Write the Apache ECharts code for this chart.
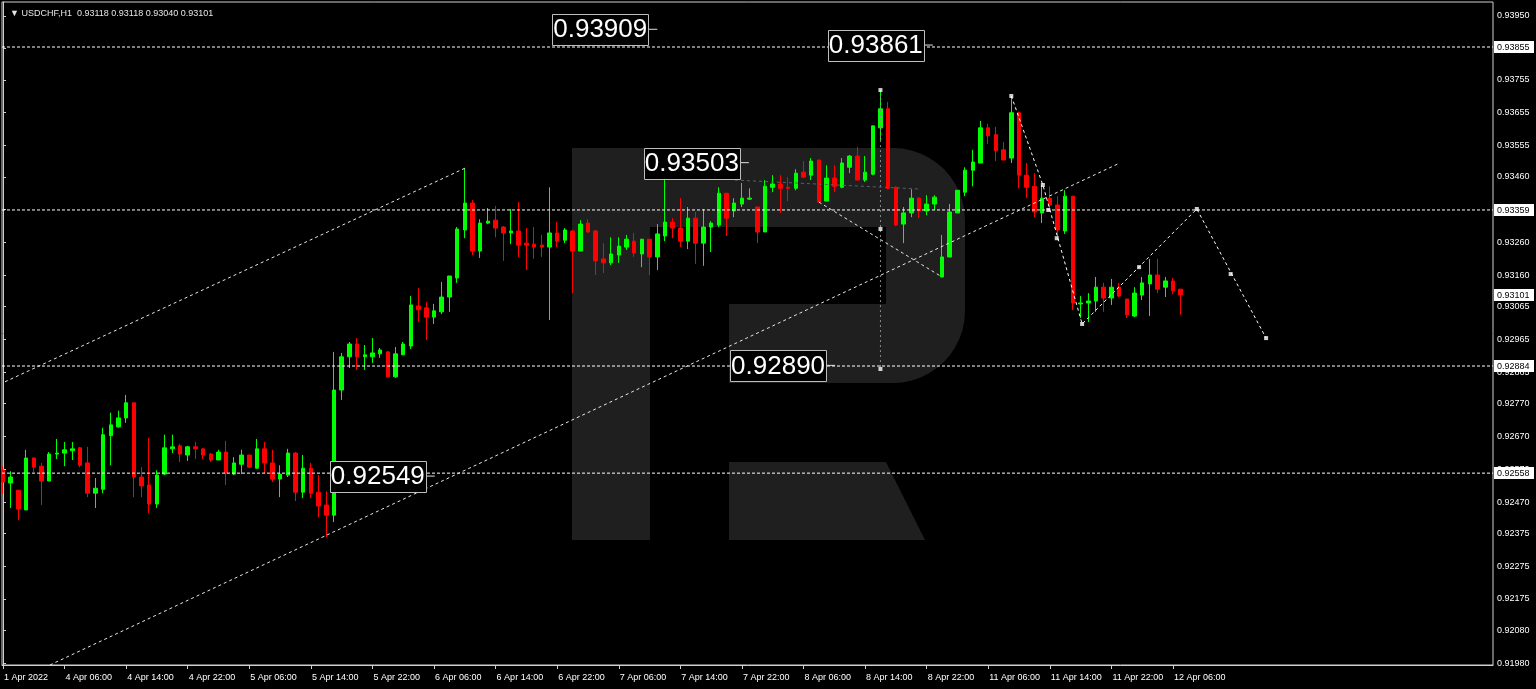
<!DOCTYPE html>
<html><head><meta charset="utf-8">
<script src="https://cdn.jsdelivr.net/npm/echarts@6/dist/echarts.min.js"></script>
<style>html,body{margin:0;padding:0;background:#000;overflow:hidden}#c{width:1536px;height:689px}</style>
</head><body><div id="c"></div>
<script>
// ---- data (USDCHF, H1) ----
const opens = [
0.92567,0.92528,0.92506,0.92446,0.92604,0.92579,0.92534,0.92616,0.92619,0.92626,
0.92635,0.92589,0.92497,0.92509,0.92672,0.92699,0.92726,0.92772,0.92546,0.92522,
0.92464,0.92555,0.92632,0.92641,0.92613,0.92638,0.92632,0.92616,0.92598,0.92622,
0.92555,0.92585,0.92613,0.92573,0.92632,0.92589,0.92540,0.92552,0.92619,0.92500,
0.92573,0.92500,0.92461,0.92430,0.92811,0.92912,0.92951,0.92912,0.92912,0.92921,
0.92927,0.92851,0.92918,0.92945,0.93067,0.93061,0.93033,0.93049,0.93094,0.93152,
0.93298,0.93380,0.93234,0.93319,0.93328,0.93307,0.93289,0.93295,0.93258,0.93255,
0.93252,0.93246,0.93289,0.93267,0.93295,0.93234,0.93319,0.93295,0.93210,0.93198,
0.93222,0.93246,0.93264,0.93225,0.93270,0.93216,0.93280,0.93322,0.93304,0.93264,
0.93334,0.93258,0.93307,0.93313,0.93410,0.93356,0.93377,0.93392,0.93368,0.93292,
0.93428,0.93438,0.93428,0.93425,0.93474,0.93465,0.93511,0.93386,0.93456,0.93428,
0.93489,0.93523,0.93450,0.93468,0.93609,0.93667,0.93428,0.93316,0.93350,0.93395,
0.93356,0.93377,0.93155,0.93216,0.93350,0.93413,0.93480,0.93502,0.93609,0.93588,
0.93542,0.93517,0.93655,0.93465,0.93431,0.93350,0.93395,0.93374,0.93295,0.93401,
0.93073,0.93076,0.93082,0.93124,0.93091,0.93124,0.93088,0.93036,0.93100,0.93134,
0.93161,0.93124,0.93143,0.93118];
const closes = [
0.92531,0.92546,0.92449,0.92604,0.92576,0.92534,0.92616,0.92619,0.92629,0.92632,
0.92582,0.92497,0.92512,0.92675,0.92705,0.92726,0.92772,0.92546,0.92519,0.92464,
0.92552,0.92635,0.92638,0.92616,0.92638,0.92632,0.92613,0.92598,0.92622,0.92558,
0.92589,0.92613,0.92576,0.92632,0.92589,0.92540,0.92555,0.92619,0.92500,0.92573,
0.92497,0.92458,0.92430,0.92811,0.92912,0.92951,0.92912,0.92918,0.92924,0.92933,
0.92851,0.92921,0.92951,0.93070,0.93055,0.93033,0.93052,0.93094,0.93158,0.93301,
0.93380,0.93234,0.93319,0.93325,0.93304,0.93289,0.93295,0.93252,0.93252,0.93246,
0.93246,0.93289,0.93264,0.93298,0.93234,0.93316,0.93292,0.93204,0.93198,0.93225,
0.93249,0.93270,0.93228,0.93270,0.93216,0.93286,0.93322,0.93304,0.93264,0.93334,
0.93258,0.93307,0.93319,0.93410,0.93334,0.93380,0.93395,0.93395,0.93292,0.93431,
0.93438,0.93425,0.93425,0.93471,0.93459,0.93508,0.93383,0.93456,0.93431,0.93502,
0.93523,0.93450,0.93474,0.93615,0.93667,0.93425,0.93313,0.93350,0.93395,0.93356,
0.93377,0.93398,0.93216,0.93353,0.93419,0.93480,0.93505,0.93609,0.93585,0.93539,
0.93511,0.93655,0.93465,0.93428,0.93353,0.93395,0.93374,0.93298,0.93401,0.93076,
0.93076,0.93082,0.93124,0.93091,0.93124,0.93097,0.93040,0.93106,0.93137,0.93161,
0.93118,0.93143,0.93113,0.93101];
const highs = [
0.92579,0.92564,0.92506,0.92629,0.92607,0.92589,0.92622,0.92662,0.92653,0.92653,
0.92638,0.92638,0.92543,0.92696,0.92742,0.92748,0.92796,0.92772,0.92576,0.92665,
0.92567,0.92675,0.92675,0.92647,0.92641,0.92653,0.92632,0.92619,0.92629,0.92656,
0.92607,0.92629,0.92613,0.92662,0.92653,0.92629,0.92582,0.92632,0.92622,0.92613,
0.92589,0.92552,0.92503,0.92927,0.92924,0.92957,0.92969,0.92948,0.92969,0.92939,
0.92930,0.92942,0.92957,0.93097,0.93121,0.93079,0.93073,0.93140,0.93158,0.93307,
0.93486,0.93389,0.93331,0.93365,0.93371,0.93310,0.93362,0.93383,0.93304,0.93307,
0.93283,0.93428,0.93322,0.93304,0.93298,0.93328,0.93331,0.93298,0.93258,0.93276,
0.93276,0.93283,0.93289,0.93270,0.93270,0.93316,0.93503,0.93334,0.93395,0.93368,
0.93353,0.93362,0.93325,0.93428,0.93410,0.93395,0.93441,0.93425,0.93368,0.93450,
0.93465,0.93465,0.93459,0.93483,0.93508,0.93517,0.93511,0.93495,0.93495,0.93517,
0.93526,0.93551,0.93523,0.93615,0.93724,0.93688,0.93431,0.93368,0.93422,0.93398,
0.93404,0.93404,0.93283,0.93377,0.93419,0.93489,0.93542,0.93630,0.93621,0.93612,
0.93566,0.93706,0.93658,0.93502,0.93471,0.93435,0.93431,0.93401,0.93419,0.93401,
0.93097,0.93106,0.93155,0.93137,0.93149,0.93137,0.93088,0.93124,0.93155,0.93210,
0.93210,0.93155,0.93152,0.93118];
const lows = [
0.92494,0.92452,0.92415,0.92446,0.92561,0.92461,0.92534,0.92601,0.92579,0.92598,
0.92576,0.92485,0.92452,0.92497,0.92582,0.92696,0.92711,0.92485,0.92485,0.92437,
0.92452,0.92552,0.92619,0.92592,0.92595,0.92601,0.92601,0.92592,0.92598,0.92522,
0.92552,0.92555,0.92573,0.92573,0.92558,0.92531,0.92485,0.92546,0.92473,0.92482,
0.92482,0.92424,0.92363,0.92409,0.92781,0.92878,0.92872,0.92872,0.92893,0.92909,
0.92848,0.92848,0.92918,0.92936,0.93018,0.92963,0.93012,0.93042,0.93049,0.93137,
0.93273,0.93222,0.93213,0.93316,0.93276,0.93204,0.93255,0.93216,0.93176,0.93210,
0.93216,0.93024,0.93246,0.93258,0.93106,0.93234,0.93289,0.93161,0.93167,0.93191,
0.93198,0.93237,0.93216,0.93185,0.93161,0.93176,0.93264,0.93273,0.93246,0.93240,
0.93195,0.93189,0.93231,0.93307,0.93280,0.93337,0.93368,0.93389,0.93258,0.93292,
0.93413,0.93350,0.93386,0.93419,0.93456,0.93450,0.93383,0.93386,0.93413,0.93425,
0.93471,0.93450,0.93444,0.93465,0.93572,0.93422,0.93310,0.93258,0.93337,0.93334,
0.93343,0.93359,0.93155,0.93216,0.93350,0.93401,0.93431,0.93502,0.93560,0.93508,
0.93511,0.93502,0.93425,0.93395,0.93337,0.93319,0.93359,0.93267,0.93286,0.93055,
0.93030,0.93018,0.93049,0.93049,0.93070,0.93094,0.93030,0.93033,0.93085,0.93036,
0.93106,0.93094,0.93103,0.93040];

// time axis labels (one every 8 hourly bars)
const xTickIndex = [0,8,16,24,32,40,48,56,64,72,80,88,96,104,112,120,128,136,144,152];
const xTickLabels = ['1 Apr 2022','4 Apr 06:00','4 Apr 14:00','4 Apr 22:00','5 Apr 06:00','5 Apr 14:00',
  '5 Apr 22:00','6 Apr 06:00','6 Apr 14:00','6 Apr 22:00','7 Apr 06:00','7 Apr 14:00','7 Apr 22:00',
  '8 Apr 06:00','8 Apr 14:00','8 Apr 22:00','11 Apr 06:00','11 Apr 14:00','11 Apr 22:00','12 Apr 06:00'];
// price scale labels
const yTicks = [0.91980,0.92080,0.92175,0.92275,0.92375,0.92470,0.92570,0.92670,0.92770,0.92865,
  0.92965,0.93065,0.93160,0.93260,0.93360,0.93460,0.93555,0.93655,0.93755,0.93850,0.93950];

// horizontal levels and current price
const hLines = [0.93855, 0.93359, 0.92884, 0.92558];
const lastPrice = 0.93101;

// drawn objects: [bar index, price]
const channelUpper = [[0.26, 0.92836], [60, 0.93486]];
const channelLower = [[6.1, 0.91974], [145.1, 0.93502]];
const swingLine = [[106, 0.93383], [122, 0.93155]];
const forecastPath = [[131, 0.93706], [135.1, 0.93435], [140.2, 0.93012], [155.1, 0.93362], [164.1, 0.92969]];
const forecastMarks = [[131, 0.93706], [135.1, 0.93435], [135.8, 0.93359], [136.9, 0.93273], [140.2, 0.93012],
  [147.6, 0.93185], [155.1, 0.93362], [159.5, 0.93164], [164.1, 0.92969], [114, 0.93724], [114, 0.93301], [114, 0.92875]];
const verticalLine = [[114, 0.93724], [114, 0.92875]];
const greyLine = [[95.1, 0.93450], [118.9, 0.93423]];
const priceLabelText = ['0.93909', '0.93861', '0.93503', '0.92890', '0.92549'];
const priceLabelAt = [[85, 0.93909], [120.8, 0.93861], [96.9, 0.93503], [108.1, 0.92886], [56.1, 0.92549]];

// axis range
const X_MIN = -0.13, X_MAX = 193.58, Y_MIN = 0.91974, Y_MAX = 0.93992;

// ---- chart ----
const FONT = 'Liberation Sans';
const candles = opens.map((o, i) => [i, o, closes[i], lows[i], highs[i]]);

// watermark logo (decoration)
function logoOuter() {
  const pts = [[572,148],[893,148]];
  const r = 72, n = 12;
  for (let k = 1; k <= n; k++) { const t = k / n * Math.PI / 2; pts.push([893 + r * Math.sin(t), 220 - r * Math.cos(t)]); }
  pts.push([965, 311]);
  for (let k = 1; k <= n; k++) { const t = k / n * Math.PI / 2; pts.push([893 + r * Math.cos(t), 311 + r * Math.sin(t)]); }
  pts.push([729,383],[729,304],[886,304],[886,227],[650,227],[650,540],[572,540]);
  return pts;
}

const lineBase = (data, color, dash, z) => ({
  type: 'line', data: data, symbol: 'none', silent: true, z: z || 3, animation: false,
  lineStyle: { color: color, width: 1, type: dash }
});

const hLineSeries = hLines.map(v => lineBase([[X_MIN, v], [X_MAX, v]], '#ffffff', [3, 2], 3));
const axisBoxValues = hLines.concat([lastPrice]).map(v => [X_MAX, v]);

const chart = echarts.init(document.getElementById('c'), null, { width: 1536, height: 689 });
chart.setOption({
  backgroundColor: '#000',
  animation: false,
  title: {
    text: '\u25BC USDCHF,H1  0.93118 0.93118 0.93040 0.93101', left: 5, top: 4,
    textStyle: { color: '#e6e6e6', fontSize: 9, fontWeight: 'normal', fontFamily: FONT }
  },
  grid: { left: 2, right: 43, top: 2, bottom: 24, show: true, borderColor: '#cfcfcf', borderWidth: 1,
    backgroundColor: 'transparent', containLabel: false, outerBoundsMode: 'none' },
  graphic: [
    { type: 'polygon', z: 1, silent: true, shape: { points: logoOuter() }, style: { fill: '#1f1f1f' } },
    { type: 'polygon', z: 1, silent: true, shape: { points: [[729,462],[886,462],[925,540],[729,540]] }, style: { fill: '#1f1f1f' } }
  ],
  xAxis: {
    type: 'value', min: X_MIN, max: X_MAX,
    axisLine: { show: true, lineStyle: { color: '#cfcfcf' } },
    axisTick: { show: true, customValues: xTickIndex, length: 4, lineStyle: { color: '#cfcfcf' } },
    axisLabel: {
      customValues: xTickIndex, align: 'left', margin: 8, color: '#ffffff', fontSize: 9, fontFamily: FONT,
      padding: [0, 0, 0, 1],
      formatter: v => { const k = xTickIndex.indexOf(Math.round(v)); return k >= 0 ? xTickLabels[k] : ''; }
    },
    splitLine: { show: false }
  },
  yAxis: {
    type: 'value', position: 'right', min: Y_MIN, max: Y_MAX,
    axisLine: { show: true, lineStyle: { color: '#cfcfcf' } },
    axisTick: { show: true, customValues: yTicks, length: 3, lineStyle: { color: '#cfcfcf' } },
    axisLabel: { customValues: yTicks, margin: 4, color: '#ffffff', fontSize: 9, fontFamily: FONT,
      formatter: v => v.toFixed(5) },
    splitLine: { show: false }
  },
  series: [
    {
      type: 'candlestick', data: candles, barWidth: 4, z: 2, silent: true,
      itemStyle: { color: '#00ff00', color0: '#ff0000', borderColor: '#00ff00', borderColor0: '#ff0000', borderWidth: 1 }
    },
    ...hLineSeries,
    lineBase(channelUpper, '#e8e8e8', [3, 3]),
    lineBase(channelLower, '#e8e8e8', [3, 3]),
    lineBase(swingLine, '#e8e8e8', [3, 3]),
    lineBase(forecastPath, '#ffffff', [3, 3]),
    lineBase(verticalLine, '#8a8a8a', [2, 3]),
    lineBase(greyLine, '#56606a', [3, 3]),
    {
      type: 'scatter', data: forecastMarks, symbol: 'rect', symbolSize: 4, silent: true, z: 4,
      itemStyle: { color: '#ffffff' }
    },
    {
      type: 'custom', data: axisBoxValues, z: 7, silent: true, clip: false,
      renderItem: function (params, api) {
        const p = api.coord([api.value(0), api.value(1)]);
        const x = p[0], y = Math.round(p[1]);
        return {
          type: 'group', children: [
            { type: 'rect', shape: { x: x + 1, y: y - 6, width: 40, height: 12 }, style: { fill: '#ffffff' } },
            { type: 'text', style: { text: api.value(1).toFixed(5), x: x + 4, y: y + 0.5, align: 'left',
              verticalAlign: 'middle', fill: '#000000', font: '9px "Liberation Sans"' } }
          ]
        };
      }
    },
    {
      type: 'custom', data: priceLabelAt, z: 6, silent: true,
      renderItem: function (params, api) {
        const p = api.coord([api.value(0), api.value(1)]);
        const x = p[0], y = p[1];
        return {
          type: 'group', children: [
            { type: 'line', shape: { x1: x - 9, y1: y, x2: x, y2: y }, style: { stroke: '#e0e0e0', lineWidth: 1 } },
            { type: 'rect', shape: { x: Math.round(x - 105) + 0.5, y: Math.round(y - 15) + 0.5, width: 96, height: 31 },
              style: { fill: '#000', stroke: '#bdbdbd', lineWidth: 1 } },
            { type: 'text', style: { text: priceLabelText[params.dataIndex], x: x - 57, y: y + 1,
              align: 'center', verticalAlign: 'middle', fill: '#ffffff', font: '26px "Liberation Sans"' } }
          ]
        };
      }
    }
  ]
});
</script>
</body></html>
